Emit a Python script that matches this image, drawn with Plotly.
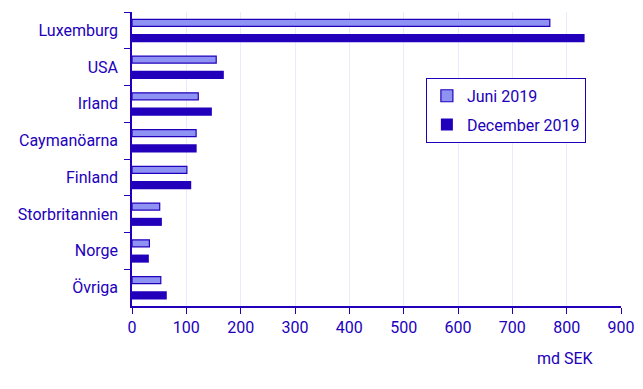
import plotly.graph_objects as go

categories = ["Luxemburg", "USA", "Irland", "Caymanöarna", "Finland",
              "Storbritannien", "Norge", "Övriga"]
juni_2019 = [769, 155, 122, 118, 101, 51, 32, 53]
december_2019 = [833, 169, 147, 119, 109, 55, 31, 64]
x_ticks = [0, 100, 200, 300, 400, 500, 600, 700, 800, 900]

DARK = "#2200bb"
LIGHT = "#8e92f2"
FONT = "Roboto"
FS = 16

fig = go.Figure()
fig.add_trace(go.Bar(
    y=categories, x=juni_2019, orientation="h", name="Juni 2019",
    marker=dict(color=LIGHT, line=dict(color=DARK, width=1.2)),
    width=0.19, offset=-0.30,
    legendgroup="a",
))
fig.add_trace(go.Bar(
    y=categories, x=december_2019, orientation="h", name="December 2019",
    marker=dict(color=DARK, line=dict(color=DARK, width=0)),
    width=0.22, offset=0.10,
    legendgroup="b",
))

fig.update_layout(
    width=635, height=381,
    margin=dict(l=124, r=22, t=4, b=83),
    paper_bgcolor="white", plot_bgcolor="white",
    barmode="overlay",
    font=dict(family=FONT, size=FS, color=DARK),
    legend=dict(
        x=0.601, y=0.776, xanchor="left", yanchor="top",
        bordercolor=DARK, borderwidth=1, bgcolor="white",
        font=dict(family=FONT, size=FS, color=DARK),
        tracegroupgap=5, traceorder="grouped",
    ),
    xaxis=dict(
        range=[0, 900], tickvals=x_ticks, showgrid=True, gridcolor="#ebe9fb",
        gridwidth=1, showline=True, linecolor=DARK, linewidth=1.5,
        ticks="outside", ticklen=6, tickcolor=DARK, zeroline=False,
        tickfont=dict(family=FONT, size=FS, color=DARK),
    ),
    yaxis=dict(
        categoryorder="array", categoryarray=categories, autorange="reversed",
        showline=True, linecolor=DARK, linewidth=1.5, ticks="outside",
        tickson="boundaries", ticklen=6, tickcolor=DARK, showgrid=False,
        tickfont=dict(family=FONT, size=FS, color=DARK), ticklabelstandoff=9,
    ),
    annotations=[dict(
        text="md SEK", xref="paper", yref="paper", x=0.8875, y=-0.139,
        xanchor="center", yanchor="top", showarrow=False,
        font=dict(family=FONT, size=FS, color=DARK),
    )],
)

fig.write_html("out.html")
